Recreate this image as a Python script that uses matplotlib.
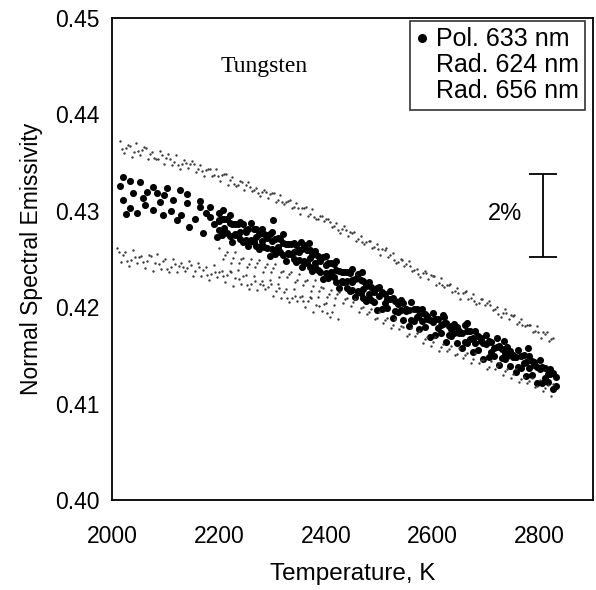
import matplotlib
matplotlib.use("Agg")
import matplotlib.pyplot as plt
from matplotlib.lines import Line2D

# ---------------- data ----------------
# Pol. 633 nm (large black dots)
pol633_T = [
    2021, 2034, 2052, 2076, 2103, 2127, 2140, 2164, 2183, 2207,
    2021, 2034, 2047, 2058, 2076, 2095, 2121, 2145, 2170, 2196,
    2090, 2114, 2140, 2164, 2183, 2201,
    2027, 2040, 2065, 2085, 2110, 2130, 2155, 2175, 2190, 2015, 2062, 2098,
    2200, 2210, 2220, 2230, 2240, 2250, 2260, 2270, 2280, 2290,
    2300, 2310, 2320, 2330, 2340, 2350, 2360, 2370, 2380, 2390,
    2400, 2410, 2420, 2430, 2440, 2450, 2460, 2470, 2480, 2490,
    2500, 2510, 2520, 2530, 2540, 2550, 2560, 2570, 2580, 2590,
    2600, 2610, 2620, 2630, 2640, 2650, 2660, 2670, 2680, 2690,
    2700, 2710, 2720, 2730, 2740, 2750, 2760, 2770, 2780, 2790,
    2800, 2810, 2820, 2830,
    2205, 2215, 2225, 2235, 2245, 2255, 2265, 2275, 2285, 2295,
    2305, 2315, 2325, 2335, 2345, 2355, 2365, 2375, 2385, 2395,
    2405, 2415, 2425, 2435, 2445, 2455, 2465, 2475, 2485, 2495,
    2505, 2515, 2525, 2535, 2545, 2555, 2565, 2575, 2585, 2595,
    2605, 2615, 2625, 2635, 2645, 2655, 2665, 2675, 2685, 2695,
    2705, 2715, 2725, 2735, 2745, 2755, 2765, 2775, 2785, 2795,
    2805, 2815, 2825,
    2200, 2210, 2220, 2230, 2240, 2250, 2260, 2270, 2280, 2290,
    2300, 2310, 2320, 2330, 2340, 2350, 2360, 2370, 2380, 2390,
    2400, 2410, 2420, 2430, 2440, 2450, 2460, 2470, 2480, 2490,
    2500, 2510, 2520, 2530, 2540, 2550, 2560, 2570, 2580, 2590,
    2600, 2610, 2620, 2630, 2640, 2650, 2660, 2670, 2680, 2690,
    2700, 2710, 2720, 2730, 2740, 2750, 2760, 2770, 2780, 2790,
    2800, 2810, 2820, 2830,
    2302, 2354, 2369, 2449, 2468, 2621, 2664, 2733, 2778,
    2205, 2215, 2225, 2235, 2245, 2255, 2265, 2275, 2285, 2295,
    2305, 2315, 2325, 2335, 2345, 2355, 2365, 2375, 2385, 2395,
    2405, 2415, 2425, 2435, 2445, 2455, 2465, 2475, 2485, 2495,
    2200, 2210, 2220, 2230, 2240, 2250, 2260, 2270, 2280, 2290,
    2300, 2310, 2320, 2330, 2340, 2350, 2360, 2370, 2380, 2390,
    2400, 2410, 2420, 2430, 2440, 2450, 2460, 2470, 2480, 2490,
    2505, 2515, 2525, 2535, 2545, 2555, 2565, 2575, 2585, 2595,
    2605, 2615, 2625, 2635, 2645, 2655, 2665, 2675, 2685, 2695,
    2705, 2715, 2725, 2735, 2745, 2755, 2765, 2775, 2785, 2795,
    2805, 2815, 2825,
]
pol633_E = [
    0.4335, 0.4331, 0.4330, 0.4325, 0.4324, 0.4322, 0.4317, 0.4310, 0.4304, 0.4301,
    0.4311, 0.4303, 0.4298, 0.4313, 0.4301, 0.4296, 0.4290, 0.4283, 0.4277, 0.4273,
    0.4309, 0.4311, 0.4308, 0.4304, 0.4294, 0.4290,
    0.4297, 0.4318, 0.4320, 0.4318, 0.4300, 0.4296, 0.4292, 0.4298, 0.4286, 0.4326, 0.4306, 0.4316,
    0.4298, 0.4292, 0.4296, 0.4286, 0.4288, 0.4280, 0.4287, 0.4281, 0.4281, 0.4275,
    0.4278, 0.4272, 0.4276, 0.4266, 0.4267, 0.4259, 0.4265, 0.4259, 0.4258, 0.4251,
    0.4253, 0.4246, 0.4248, 0.4237, 0.4237, 0.4228, 0.4234, 0.4227, 0.4226, 0.4219,
    0.4221, 0.4214, 0.4217, 0.4206, 0.4207, 0.4198, 0.4205, 0.4198, 0.4198, 0.4191,
    0.4194, 0.4188, 0.4192, 0.4181, 0.4183, 0.4175, 0.4182, 0.4175, 0.4175, 0.4168,
    0.4171, 0.4164, 0.4168, 0.4157, 0.4159, 0.4150, 0.4156, 0.4150, 0.4149, 0.4143,
    0.4145, 0.4137, 0.4136, 0.4128,
    0.4275, 0.4277, 0.4268, 0.4275, 0.4268, 0.4263, 0.4268, 0.4260, 0.4262, 0.4253,
    0.4255, 0.4257, 0.4248, 0.4255, 0.4247, 0.4242, 0.4246, 0.4238, 0.4239, 0.4229,
    0.4230, 0.4231, 0.4220, 0.4226, 0.4217, 0.4211, 0.4215, 0.4206, 0.4207, 0.4197,
    0.4198, 0.4199, 0.4189, 0.4195, 0.4187, 0.4181, 0.4186, 0.4177, 0.4179, 0.4169,
    0.4171, 0.4173, 0.4164, 0.4170, 0.4163, 0.4158, 0.4163, 0.4154, 0.4156, 0.4146,
    0.4148, 0.4149, 0.4140, 0.4146, 0.4139, 0.4133, 0.4137, 0.4129, 0.4130, 0.4121,
    0.4121, 0.4122, 0.4115,
    0.4289, 0.4282, 0.4287, 0.4276, 0.4278, 0.4278, 0.4269, 0.4273, 0.4269, 0.4272,
    0.4269, 0.4262, 0.4267, 0.4256, 0.4257, 0.4257, 0.4247, 0.4251, 0.4246, 0.4248,
    0.4244, 0.4236, 0.4239, 0.4227, 0.4227, 0.4226, 0.4216, 0.4219, 0.4214, 0.4216,
    0.4212, 0.4204, 0.4208, 0.4196, 0.4197, 0.4196, 0.4187, 0.4190, 0.4186, 0.4188,
    0.4185, 0.4178, 0.4183, 0.4171, 0.4173, 0.4173, 0.4164, 0.4167, 0.4163, 0.4165,
    0.4162, 0.4154, 0.4159, 0.4147, 0.4149, 0.4148, 0.4138, 0.4142, 0.4137, 0.4140,
    0.4136, 0.4127, 0.4131, 0.4118,
    0.4290, 0.4268, 0.4267, 0.4240, 0.4236, 0.4190, 0.4184, 0.4165, 0.4158,
    0.4291, 0.4291, 0.4286, 0.4286, 0.4286, 0.4281, 0.4281, 0.4276, 0.4276, 0.4276,
    0.4271, 0.4271, 0.4266, 0.4266, 0.4265, 0.4260, 0.4259, 0.4254, 0.4253, 0.4252,
    0.4246, 0.4245, 0.4238, 0.4237, 0.4235, 0.4229, 0.4228, 0.4222, 0.4221, 0.4220,
    0.4280, 0.4280, 0.4274, 0.4275, 0.4271, 0.4270, 0.4270, 0.4264, 0.4265, 0.4261,
    0.4260, 0.4260, 0.4254, 0.4255, 0.4250, 0.4249, 0.4248, 0.4242, 0.4242, 0.4237,
    0.4235, 0.4234, 0.4226, 0.4226, 0.4220, 0.4218, 0.4217, 0.4210, 0.4210, 0.4205,
    0.4216, 0.4209, 0.4210, 0.4203, 0.4204, 0.4197, 0.4198, 0.4192, 0.4193, 0.4187,
    0.4188, 0.4182, 0.4184, 0.4177, 0.4179, 0.4173, 0.4175, 0.4168, 0.4170, 0.4163,
    0.4165, 0.4158, 0.4160, 0.4153, 0.4155, 0.4148, 0.4149, 0.4143, 0.4144, 0.4138,
    0.4138, 0.4131, 0.4132,
]

# Rad. 624 nm (fine stipple, upper band)
rad624_T = [
    2015, 2030, 2045, 2060, 2075, 2090, 2105, 2120, 2135, 2150, 2165, 2180, 2195, 2210,
    2225, 2240, 2255, 2270, 2285, 2300, 2315, 2330, 2345, 2360, 2375, 2390, 2405, 2420,
    2435, 2450, 2465, 2480, 2495, 2510, 2525, 2540, 2555, 2570, 2585, 2600, 2615, 2630,
    2645, 2660, 2675, 2690, 2705, 2720, 2735, 2750, 2765, 2780, 2795, 2810, 2825,
    2022, 2037, 2052, 2067, 2082, 2097, 2112, 2127, 2142, 2157, 2172, 2187, 2202, 2217,
    2232, 2247, 2262, 2277, 2292, 2307, 2322, 2337, 2352, 2367, 2382, 2397, 2412, 2427,
    2442, 2457, 2472, 2487, 2502, 2517, 2532, 2547, 2562, 2577, 2592, 2607, 2622, 2637,
    2652, 2667, 2682, 2697, 2712, 2727, 2742, 2757, 2772, 2787, 2802, 2817,
    2026, 2041, 2056, 2071, 2086, 2101, 2116, 2131, 2146, 2161, 2176, 2191, 2206, 2221,
    2236, 2251, 2266, 2281, 2296, 2311, 2326, 2341, 2356, 2371, 2386, 2401, 2416, 2431,
    2446, 2461, 2476, 2491, 2506, 2521, 2536, 2551, 2566, 2581, 2596, 2611, 2626, 2641,
    2656, 2671, 2686, 2701, 2716, 2731, 2746, 2761, 2776, 2791, 2806, 2821,
    2018, 2033, 2048, 2063, 2078, 2093, 2108, 2123, 2138, 2153, 2168, 2183, 2198, 2213,
    2228, 2243, 2258, 2273, 2288, 2303, 2318, 2333, 2348, 2363, 2378, 2393, 2408, 2423,
    2438, 2453, 2468, 2483, 2498, 2513, 2528, 2543, 2558, 2573, 2588, 2603, 2618, 2633,
    2648, 2663, 2678, 2693, 2708, 2723, 2738, 2753, 2768, 2783, 2798, 2813,
]
rad624_E = [
    0.4372, 0.4368, 0.4370, 0.4366, 0.4361, 0.4362, 0.4359, 0.4358, 0.4353, 0.4352, 0.4348, 0.4343, 0.4343, 0.4338,
    0.4335, 0.4331, 0.4330, 0.4324, 0.4322, 0.4318, 0.4316, 0.4310, 0.4308, 0.4303, 0.4302, 0.4295, 0.4292, 0.4287,
    0.4284, 0.4277, 0.4274, 0.4269, 0.4266, 0.4259, 0.4256, 0.4250, 0.4248, 0.4240, 0.4238, 0.4232, 0.4230, 0.4223,
    0.4220, 0.4216, 0.4214, 0.4208, 0.4206, 0.4200, 0.4198, 0.4191, 0.4188, 0.4182, 0.4180, 0.4172, 0.4168,
    0.4360, 0.4356, 0.4358, 0.4354, 0.4354, 0.4349, 0.4348, 0.4343, 0.4344, 0.4340, 0.4336, 0.4336, 0.4331, 0.4327,
    0.4326, 0.4322, 0.4321, 0.4315, 0.4313, 0.4309, 0.4307, 0.4303, 0.4297, 0.4295, 0.4291, 0.4289, 0.4283, 0.4277,
    0.4274, 0.4269, 0.4266, 0.4261, 0.4254, 0.4252, 0.4246, 0.4243, 0.4238, 0.4231, 0.4229, 0.4223, 0.4221, 0.4216,
    0.4209, 0.4208, 0.4203, 0.4202, 0.4197, 0.4190, 0.4188, 0.4183, 0.4180, 0.4174, 0.4168, 0.4165,
    0.4365, 0.4361, 0.4363, 0.4359, 0.4354, 0.4355, 0.4351, 0.4349, 0.4349, 0.4343, 0.4342, 0.4337, 0.4337, 0.4332,
    0.4327, 0.4327, 0.4322, 0.4320, 0.4317, 0.4311, 0.4309, 0.4304, 0.4303, 0.4297, 0.4292, 0.4291, 0.4284, 0.4281,
    0.4278, 0.4271, 0.4268, 0.4262, 0.4260, 0.4254, 0.4247, 0.4245, 0.4239, 0.4235, 0.4233, 0.4225, 0.4223, 0.4217,
    0.4215, 0.4210, 0.4204, 0.4204, 0.4198, 0.4194, 0.4192, 0.4185, 0.4182, 0.4175, 0.4174, 0.4167,
    0.4364, 0.4367, 0.4362, 0.4365, 0.4355, 0.4358, 0.4354, 0.4347, 0.4350, 0.4349, 0.4341, 0.4343, 0.4336, 0.4338,
    0.4328, 0.4330, 0.4325, 0.4318, 0.4319, 0.4318, 0.4309, 0.4311, 0.4303, 0.4304, 0.4294, 0.4295, 0.4288, 0.4280,
    0.4280, 0.4278, 0.4268, 0.4269, 0.4260, 0.4261, 0.4249, 0.4249, 0.4243, 0.4234, 0.4235, 0.4232, 0.4223, 0.4224,
    0.4215, 0.4217, 0.4206, 0.4208, 0.4202, 0.4193, 0.4194, 0.4192, 0.4182, 0.4182, 0.4174, 0.4174,
]

# Rad. 656 nm (fine stipple, two lower bands)
rad656_T = [
    2010, 2025, 2040, 2055, 2070, 2085, 2100, 2115, 2130, 2145, 2160, 2175, 2190, 2205,
    2220, 2235, 2250, 2265, 2280, 2295, 2310, 2325, 2340, 2355, 2370, 2385, 2400, 2415,
    2017, 2032, 2047, 2062, 2077, 2092, 2107, 2122, 2137, 2152, 2167, 2182, 2197, 2212,
    2227, 2242, 2257, 2272, 2287, 2302, 2317, 2332, 2347, 2362, 2377, 2392, 2407, 2422,
    2021, 2036, 2051, 2066, 2081, 2096, 2111, 2126, 2141, 2156, 2171, 2186, 2201, 2216,
    2231, 2246, 2261, 2276, 2291, 2306, 2321, 2336, 2351, 2366, 2381, 2396, 2411,
    2013, 2028, 2043, 2058, 2073, 2088, 2103, 2118, 2133, 2148, 2163, 2178, 2193, 2208,
    2223, 2238, 2253, 2268, 2283, 2298, 2313, 2328, 2343, 2358, 2373, 2388, 2403,
    2200, 2215, 2230, 2245, 2260, 2275, 2290, 2305, 2320, 2335, 2350, 2365, 2380, 2395,
    2410, 2425, 2440, 2455, 2470, 2485, 2500, 2515, 2530, 2545, 2560, 2575, 2590, 2605,
    2620, 2635, 2650, 2665, 2680, 2695, 2710, 2725, 2740, 2755, 2770, 2785, 2800, 2815, 2825,
    2207, 2222, 2237, 2252, 2267, 2282, 2297, 2312, 2327, 2342, 2357, 2372, 2387, 2402,
    2417, 2432, 2447, 2462, 2477, 2492, 2507, 2522, 2537, 2552, 2567, 2582, 2597, 2612,
    2627, 2642, 2657, 2672, 2687, 2702, 2717, 2732, 2747, 2762, 2777, 2792, 2807, 2822,
    2211, 2226, 2241, 2256, 2271, 2286, 2301, 2316, 2331, 2346, 2361, 2376, 2391, 2406,
    2421, 2436, 2451, 2466, 2481, 2496, 2511, 2526, 2541, 2556, 2571, 2586, 2601, 2616,
    2631, 2646, 2661, 2676, 2691, 2706, 2721, 2736, 2751, 2766, 2781, 2796, 2811,
]
rad656_E = [
    0.4261, 0.4257, 0.4259, 0.4253, 0.4254, 0.4255, 0.4250, 0.4250, 0.4246, 0.4248, 0.4246, 0.4242, 0.4244, 0.4238,
    0.4238, 0.4239, 0.4233, 0.4232, 0.4227, 0.4228, 0.4224, 0.4219, 0.4219, 0.4212, 0.4211, 0.4211, 0.4204, 0.4202,
    0.4247, 0.4243, 0.4246, 0.4241, 0.4238, 0.4240, 0.4236, 0.4236, 0.4238, 0.4232, 0.4232, 0.4228, 0.4231, 0.4226,
    0.4222, 0.4224, 0.4219, 0.4218, 0.4219, 0.4212, 0.4210, 0.4205, 0.4206, 0.4200, 0.4195, 0.4196, 0.4190, 0.4188,
    0.4254, 0.4249, 0.4252, 0.4248, 0.4246, 0.4248, 0.4242, 0.4243, 0.4241, 0.4238, 0.4239, 0.4234, 0.4237, 0.4233,
    0.4230, 0.4232, 0.4224, 0.4224, 0.4221, 0.4217, 0.4216, 0.4210, 0.4211, 0.4206, 0.4202, 0.4203, 0.4195,
    0.4257, 0.4248, 0.4252, 0.4247, 0.4253, 0.4245, 0.4240, 0.4245, 0.4242, 0.4244, 0.4242, 0.4233, 0.4237, 0.4232,
    0.4237, 0.4229, 0.4223, 0.4227, 0.4223, 0.4224, 0.4220, 0.4210, 0.4212, 0.4206, 0.4210, 0.4201, 0.4194,
    0.4261, 0.4257, 0.4257, 0.4251, 0.4250, 0.4249, 0.4245, 0.4245, 0.4238, 0.4236, 0.4234, 0.4228, 0.4228, 0.4220,
    0.4218, 0.4216, 0.4210, 0.4209, 0.4200, 0.4198, 0.4195, 0.4189, 0.4188, 0.4179, 0.4178, 0.4175, 0.4169, 0.4169,
    0.4162, 0.4160, 0.4158, 0.4153, 0.4153, 0.4145, 0.4144, 0.4142, 0.4136, 0.4136, 0.4128, 0.4127, 0.4124, 0.4119, 0.4120,
    0.4250, 0.4246, 0.4246, 0.4242, 0.4242, 0.4237, 0.4236, 0.4231, 0.4231, 0.4226, 0.4223, 0.4217, 0.4217, 0.4211,
    0.4210, 0.4204, 0.4201, 0.4195, 0.4193, 0.4188, 0.4184, 0.4178, 0.4177, 0.4170, 0.4170, 0.4163, 0.4160, 0.4155,
    0.4155, 0.4150, 0.4147, 0.4142, 0.4142, 0.4136, 0.4136, 0.4130, 0.4127, 0.4122, 0.4121, 0.4117, 0.4113, 0.4108,
    0.4254, 0.4251, 0.4250, 0.4245, 0.4246, 0.4242, 0.4241, 0.4236, 0.4234, 0.4228, 0.4227, 0.4222, 0.4221, 0.4214,
    0.4214, 0.4208, 0.4205, 0.4199, 0.4195, 0.4189, 0.4187, 0.4182, 0.4180, 0.4172, 0.4173, 0.4167, 0.4164, 0.4159,
    0.4157, 0.4151, 0.4150, 0.4146, 0.4145, 0.4138, 0.4139, 0.4134, 0.4131, 0.4126, 0.4123, 0.4118, 0.4116,
]

legend_labels = ["Pol. 633 nm", "Rad. 624 nm", "Rad. 656 nm"]
x_ticks = [2000, 2200, 2400, 2600, 2800]
y_ticks = [0.40, 0.41, 0.42, 0.43, 0.44, 0.45]
y_tick_labels = ["0.40", "0.41", "0.42", "0.43", "0.44", "0.45"]

# 2% scale bar
bar_T = 2807
bar_lo = 0.4252
bar_hi = 0.4338

# ---------------- figure ----------------
plt.rcParams['font.family'] = ['Liberation Sans', 'DejaVu Sans']
fig = plt.figure(figsize=(5.96, 5.90), dpi=100)
ax = fig.add_axes([112/596, 1 - 500/590, (593-112)/596, (500-18)/590])

ax.scatter(pol633_T, pol633_E, s=26, color='black', linewidths=0, zorder=2)
ax.scatter(rad624_T, rad624_E, s=3.0, color='#3a3a3a', linewidths=0, zorder=3)
ax.scatter(rad656_T, rad656_E, s=3.0, color='#3a3a3a', linewidths=0, zorder=3)

ax.set_xlim(2000, 2900)
ax.set_ylim(0.40, 0.45)
ax.set_xticks(x_ticks)
ax.set_yticks(y_ticks)
ax.set_yticklabels(y_tick_labels)
ax.tick_params(axis='both', length=0, labelsize=16.5)
ax.tick_params(axis='x', pad=18)
ax.tick_params(axis='y', pad=9)
for sp in ax.spines.values():
    sp.set_linewidth(1.3)
    sp.set_color('black')

ax.set_xlabel("Temperature, K", fontsize=17.5)
ax.set_ylabel("Normal Spectral Emissivity", fontsize=16.5)
ax.xaxis.set_label_coords(0.5, -(563 - 500) / 482)
ax.yaxis.set_label_coords(-(112 - 43) / 481, 0.5)

ax.text(2284, 0.4450, "Tungsten", family=['Liberation Serif'], fontsize=17,
        ha='center', va='center')

ax.errorbar([bar_T], [(bar_lo + bar_hi) / 2], yerr=[(bar_hi - bar_lo) / 2],
            fmt='none', ecolor='black', elinewidth=1.3, capsize=10, capthick=1.3)
ax.text(2768, 0.4297, "2%", fontsize=17, ha='right', va='center')

handles = [
    Line2D([], [], marker='o', linestyle='none', color='black', markersize=5.5),
    Line2D([], [], marker='o', linestyle='none', color='white', markersize=1),
    Line2D([], [], marker='o', linestyle='none', color='white', markersize=1),
]
leg = ax.legend(handles, legend_labels, loc='upper right',
                bbox_to_anchor=((585 - 112) / 481, (500 - 21) / 482),
                borderaxespad=0, fontsize=18, frameon=True, fancybox=False,
                handlelength=0.5, handletextpad=0.3, labelspacing=0.08,
                borderpad=0.25)
leg.get_frame().set_edgecolor('black')
leg.get_frame().set_linewidth(1.2)

fig.savefig("out.png", dpi=100)
